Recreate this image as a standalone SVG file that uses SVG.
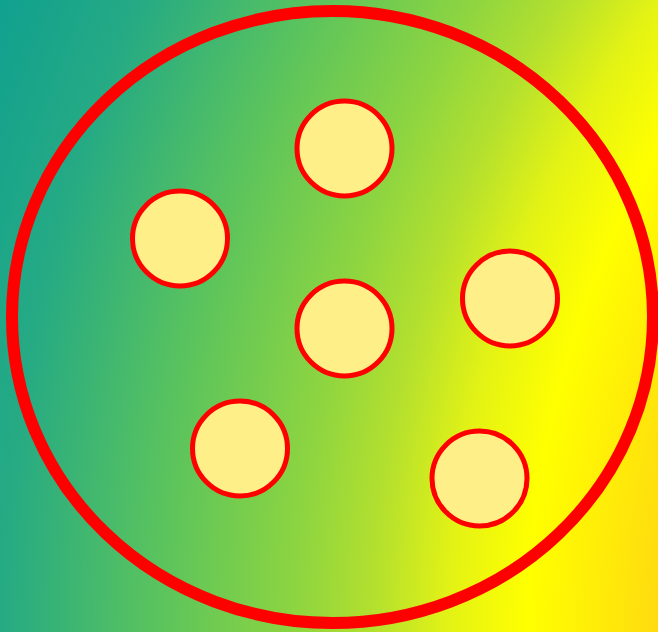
<svg xmlns="http://www.w3.org/2000/svg" width="658" height="632" viewBox="0 0 658 632">
<defs>
<radialGradient id="bg" gradientUnits="userSpaceOnUse" cx="1564" cy="648" r="1700">
<stop offset="0" stop-color="#FFC820"/>
<stop offset="0.53" stop-color="#FFDA10"/>
<stop offset="0.61" stop-color="#FFFF00"/>
<stop offset="0.655" stop-color="#E4F314"/>
<stop offset="0.70" stop-color="#B4E02E"/>
<stop offset="0.745" stop-color="#8ED540"/>
<stop offset="0.825" stop-color="#5CC45C"/>
<stop offset="0.92" stop-color="#25AA84"/>
<stop offset="1" stop-color="#0FA090"/>
</radialGradient>
<style>
.dot{fill:#FFEF88;stroke:#FF0000;stroke-width:5}
.ring{fill:none;stroke:#FF0000;stroke-width:12}
</style>
</defs>
<rect x="0" y="0" width="658" height="632" fill="url(#bg)"/>
<g id="outer"><ellipse class="ring" cx="332.5" cy="317" rx="320.5" ry="306"/></g>
<g id="c1"><circle class="dot" cx="344.5" cy="148.5" r="47.5"/></g>
<g id="c2"><circle class="dot" cx="180" cy="238.5" r="47.5"/></g>
<g id="c3"><circle class="dot" cx="344.5" cy="328.5" r="47.5"/></g>
<g id="c4"><circle class="dot" cx="510" cy="298.5" r="47.5"/></g>
<g id="c5"><circle class="dot" cx="240" cy="448.5" r="47.5"/></g>
<g id="c6"><circle class="dot" cx="479.5" cy="478.5" r="47.5"/></g>
<g id="connectors"/>
</svg>
